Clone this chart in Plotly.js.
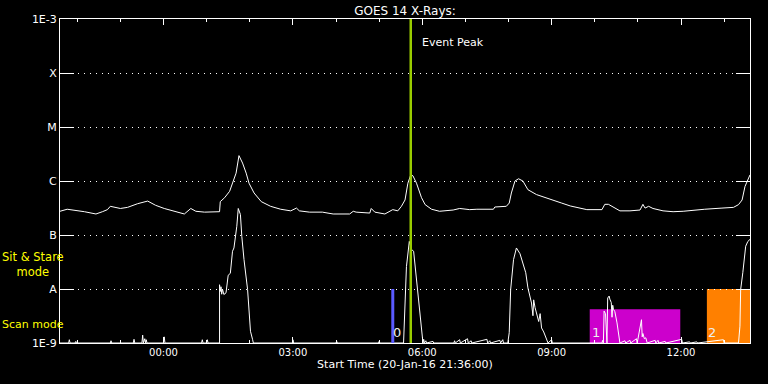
<!DOCTYPE html>
<html>
<head>
<meta charset="utf-8">
<script src="https://cdn.plot.ly/plotly-3.0.1.min.js"></script>
<style>
html,body{margin:0;padding:0;background:#000;}
#chart{width:768px;height:384px;}
</style>
</head>
<body>
<div id="chart"></div>
<script>
// ---- Data ----
// Long channel (upper curve), times HH:MM from 20-Jan-16 21:36 to 21-Jan-16 13:36, flux W/m^2
const upTime = ['21:36','21:46','22:10','22:26','22:35','22:42','22:46','22:54','23:00','23:10','23:24','23:38','23:49',
  '00:01','00:13','00:29','00:38','00:45','00:57','01:18','01:19','01:25','01:32','01:36','01:41','01:45','01:50','01:55',
  '01:59','02:06','02:16','02:29','02:43','02:57','03:05','03:09','03:23','03:41','03:56','04:19','04:24','04:28','04:47',
  '04:49','04:54','05:08','05:19','05:26','05:31','05:36','05:40','05:44','05:47','05:52','05:59','06:04','06:13','06:24',
  '06:43','06:52','07:06','07:16','07:39','07:41','07:57','08:01','08:04','08:09','08:14','08:20','08:27','08:39','08:51',
  '09:02','09:14','09:26','09:39','09:49','10:10','10:14','10:19','10:26','10:35','10:49','11:03','11:07','11:10','11:15',
  '11:21','11:35','11:49','12:03','12:17','12:33','12:57','13:13','13:20','13:25','13:29','13:34','13:36'];
const upFlux = [2.75e-7,3.0e-7,2.7e-7,2.45e-7,2.7e-7,2.95e-7,3.4e-7,3.25e-7,3.1e-7,3.25e-7,3.8e-7,4.25e-7,3.55e-7,
  3.1e-7,2.8e-7,2.45e-7,3.1e-7,2.75e-7,2.65e-7,2.7e-7,4.15e-7,4.9e-7,6.45e-7,9.1e-7,1.4e-6,2.95e-6,2.15e-6,1.4e-6,
  9.1e-7,6.0e-7,4.15e-7,3.4e-7,3.0e-7,2.8e-7,3.15e-7,2.8e-7,2.65e-7,2.65e-7,2.45e-7,2.45e-7,2.75e-7,2.65e-7,2.55e-7,
  3.1e-7,2.65e-7,2.45e-7,2.95e-7,2.8e-7,3.4e-7,4.45e-7,9.1e-7,1.3e-6,1.25e-6,9.1e-7,4.9e-7,3.65e-7,3.0e-7,2.75e-7,
  2.9e-7,3.1e-7,2.95e-7,3.0e-7,3.0e-7,3.3e-7,3.4e-7,3.9e-7,6.0e-7,1.0e-6,1.1e-6,1.0e-6,6.9e-7,5.6e-7,5.0e-7,
  4.45e-7,3.9e-7,3.45e-7,3.1e-7,2.95e-7,2.95e-7,3.7e-7,3.7e-7,3.25e-7,2.8e-7,2.8e-7,2.9e-7,3.7e-7,3.15e-7,3.4e-7,
  3.1e-7,2.8e-7,2.7e-7,2.75e-7,2.9e-7,3.0e-7,3.15e-7,3.25e-7,3.65e-7,4.45e-7,7.9e-7,1.15e-6,1.3e-6];

// Short channel (lower curve)
const lowTime = ['21:36','21:48','21:49','21:50','21:57','21:58','21:59','22:46','22:47','22:48','23:18','23:19','23:20',
  '23:30','23:31','23:32','23:34','23:35','23:36','23:37','00:00','00:01','00:02','00:53','00:54','00:55','01:00','01:01','01:02',
  '01:18','01:18','01:19','01:20','01:21','01:22','01:24','01:27','01:30','01:33','01:36','01:38','01:42','01:44','01:47',
  '01:49','01:52','01:57','02:01','02:04','02:05','03:00','03:00','03:01','04:00','04:01','04:02','04:59','05:00','05:01',
  '05:34','05:36','05:38','05:42','05:45','05:48','05:51','05:54','05:58','06:01','06:02','06:03','06:05','06:06','06:15','06:16',
  '06:44','06:45','06:46','06:52','06:53','07:03','07:04','07:08','07:09','07:30','07:31','07:34','07:35','07:48','07:49',
  '07:52','07:53','07:59','08:01','08:03','08:07','08:11','08:16','08:20','08:24','08:27','08:32','08:34','08:35','08:37',
  '08:39','08:42','08:44','08:46','08:49','08:53','08:55','09:00','09:01','10:10','10:11','10:12','10:13','10:15','10:16',
  '10:17','10:18','10:20','10:21','10:23','10:24','10:25','10:26','10:28','10:31','10:33','10:35','10:42','10:43','10:49',
  '10:50','10:58','10:59','11:00','11:03','11:05','11:06','11:07','11:09','11:11','11:13','11:24','11:25','11:28','11:29',
  '11:38','11:39','12:01','12:02','12:12','12:13','12:22','12:23','12:59','13:00','13:20','13:22','13:23','13:26','13:28',
  '13:30','13:33','13:36'];
const lowFlux = [1e-9,1e-9,1.15e-9,1e-9,1e-9,1.07e-9,1e-9,1e-9,1.1e-9,1e-9,1e-9,1.17e-9,1e-9,
  1e-9,1.4e-9,1e-9,1.2e-9,1e-9,1.15e-9,1e-9,1e-9,1.3e-9,1e-9,1e-9,1.15e-9,1e-9,1e-9,1.15e-9,1e-9,
  1e-9,1.2e-8,9e-9,1.1e-8,8e-9,1.0e-8,7.9e-9,8.5e-9,1.8e-8,1.95e-8,5.0e-8,5.75e-8,1.45e-7,3.1e-7,2.4e-7,
  9.3e-8,3.5e-8,9.8e-9,1.65e-9,1.15e-9,1e-9,1e-9,1.15e-9,1e-9,1e-9,1.07e-9,1e-9,1e-9,1.07e-9,1e-9,
  1e-9,4.8e-9,2.6e-8,7.6e-8,5.4e-8,5.0e-8,2.0e-8,6.3e-9,2.05e-9,1e-9,1.17e-9,1e-9,1.1e-9,1e-9,1.07e-9,1e-9,
  1e-9,1.1e-9,1e-9,1.15e-9,1e-9,1.2e-9,1e-9,1.1e-9,1e-9,1.17e-9,1e-9,1.1e-9,1e-9,1.12e-9,1e-9,
  1.15e-9,1e-9,1e-9,1.55e-9,9.8e-9,3.5e-8,5.75e-8,4.5e-8,3.0e-8,2.0e-8,1.05e-8,5.5e-9,3.2e-9,6.3e-9,4.5e-9,
  3.5e-9,2.5e-9,3.5e-9,1.9e-9,1.6e-9,1.12e-9,1e-9,1.15e-9,1e-9,1e-9,1.12e-9,1e-9,3.9e-9,3.5e-9,1.17e-9,
  1e-9,6.8e-9,7.4e-9,6.5e-9,5.6e-9,3.0e-9,5.0e-9,4.2e-9,3.8e-9,2.35e-9,1.4e-9,1e-9,1.1e-9,1e-9,1.12e-9,
  1e-9,1.2e-9,1e-9,1.17e-9,1.8e-9,2.7e-9,1.3e-9,1.5e-9,1.2e-9,1.25e-9,1e-9,1.12e-9,1e-9,1.12e-9,1e-9,
  1.07e-9,1e-9,1.17e-9,1e-9,1.05e-9,1e-9,1.05e-9,1e-9,1.15e-9,1e-9,1e-9,2.05e-9,9.8e-9,2.0e-8,4.0e-8,
  6.2e-8,7.6e-8,8.3e-8];

// Axis ticks
const yTickVals = [1e-9,1e-8,1e-7,1e-6,1e-5,1e-4,1e-3];
const yTickText = ['1E-9','A','B','C','M','X','1E-3'];
const xTickTimes = ['00:00','03:00','06:00','09:00','12:00'];
const xTickText  = ['00:00','03:00','06:00','09:00','12:00'];

// Event markers
const eventPeakTime = '05:44';
const scanMark = {time:'05:19', bottom:1e-9, top:1e-8, label:'0', labelTime:'05:17'};
const scanBoxes = [ {start:'09:53', end:'11:59', bottom:1e-9, top:4.2e-9, label:'1', labelTime:'09:54', color:'#cc00cc'},
                    {start:'12:36', end:'13:40', bottom:1e-9, top:1e-8,  label:'2', labelTime:'12:35', color:'#ff8000'} ];

function toDate(hm){
  const h = parseInt(hm.split(':')[0],10);
  return (h >= 21 ? '2016-01-20 ' : '2016-01-21 ') + hm;
}

const traces = [
  {x: upTime.map(toDate), y: upFlux, type:'scatter', mode:'lines',
   line:{color:'#ffffff', width:1}, hoverinfo:'skip'},
  {x: lowTime.map(toDate), y: lowFlux, type:'scatter', mode:'lines',
   line:{color:'#ffffff', width:1}, hoverinfo:'skip'}
];

const shapes = [];
scanBoxes.forEach(b => {
  shapes.push({type:'rect', xref:'x', yref:'y', x0:toDate(b.start), x1:toDate(b.end),
    y0:b.bottom, y1:b.top, fillcolor:b.color, line:{width:0}, layer:'below'});
});
shapes.push({type:'line', xref:'x', yref:'y', x0:toDate(scanMark.time), x1:toDate(scanMark.time),
  y0:scanMark.bottom, y1:scanMark.top, line:{color:'#5a5aff', width:3}, layer:'above'});
shapes.push({type:'line', xref:'x', yref:'paper', x0:toDate(eventPeakTime), x1:toDate(eventPeakTime),
  y0:0, y1:1, line:{color:'#99cc00', width:2.5}, layer:'above'});

const FONT = 'DejaVu Sans, sans-serif';
const annotations = [
  {text:'Event Peak', xref:'x', yref:'paper', x:toDate('05:57'), y:0.926, xanchor:'left', yanchor:'middle',
   showarrow:false, font:{family:FONT, size:11, color:'#ffffff'}},
  {text:'Sit & Stare<br>mode', xref:'paper', yref:'paper', x:-0.087, y:0.241, xanchor:'left', yanchor:'middle', align:'center',
   showarrow:false, font:{family:FONT, size:11.5, color:'#ffff00'}},
  {text:'Scan mode', xref:'paper', yref:'paper', x:-0.087, y:0.058, xanchor:'left', yanchor:'middle',
   showarrow:false, font:{family:FONT, size:11, color:'#ffff00'}},
  {text:scanMark.label, xref:'x', yref:'paper', x:toDate(scanMark.labelTime), y:0.031, xanchor:'left', yanchor:'middle',
   showarrow:false, font:{family:FONT, size:13, color:'#eeeeee'}}
];
scanBoxes.forEach(b => {
  annotations.push({text:b.label, xref:'x', yref:'paper', x:toDate(b.labelTime), y:0.031, xanchor:'left', yanchor:'middle',
    showarrow:false, font:{family:FONT, size:13, color:'#eeeeee'}});
});

const layout = {
  width:768, height:384,
  paper_bgcolor:'#000000', plot_bgcolor:'#000000',
  margin:{l:60, r:18, t:19, b:41},
  showlegend:false,
  font:{family:FONT, color:'#ffffff', size:11},
  title:{text:'GOES 14 X-Rays:', x:0.5, xref:'paper', xanchor:'center', y:0.972, yref:'container', yanchor:'middle',
         font:{family:FONT, size:12, color:'#ffffff'}},
  xaxis:{
    type:'date', range:[toDate('21:36'), toDate('13:36')],
    tickvals: xTickTimes.map(toDate), ticktext: xTickText,
    ticks:'inside', ticklen:6, tickcolor:'#ffffff', tickwidth:1,
    showline:true, linecolor:'#ffffff', linewidth:1, mirror:'ticks',
    showgrid:false, zeroline:false,
    tickfont:{family:FONT, size:10, color:'#ffffff'},
    minor:{ticks:'inside', ticklen:3, tickcolor:'#ffffff', dtick:3600000, tick0:toDate('00:00'), showgrid:false},
    title:{text:'Start Time (20-Jan-16 21:36:00)', standoff:2, font:{family:FONT, size:11, color:'#ffffff'}}
  },
  yaxis:{
    type:'log', range:[-9,-3],
    tickvals:yTickVals, ticktext:yTickText,
    ticks:'inside', ticklen:14, tickcolor:'#ffffff', tickwidth:1,
    showline:true, linecolor:'#ffffff', linewidth:1, mirror:'ticks',
    showgrid:true, gridcolor:'#ffffff', gridwidth:1, griddash:'1px,5px',
    zeroline:false,
    tickfont:{family:FONT, size:11, color:'#ffffff'}
  },
  shapes: shapes,
  annotations: annotations
};

Plotly.newPlot('chart', traces, layout, {staticPlot:true, displayModeBar:false});
</script>
</body>
</html>
